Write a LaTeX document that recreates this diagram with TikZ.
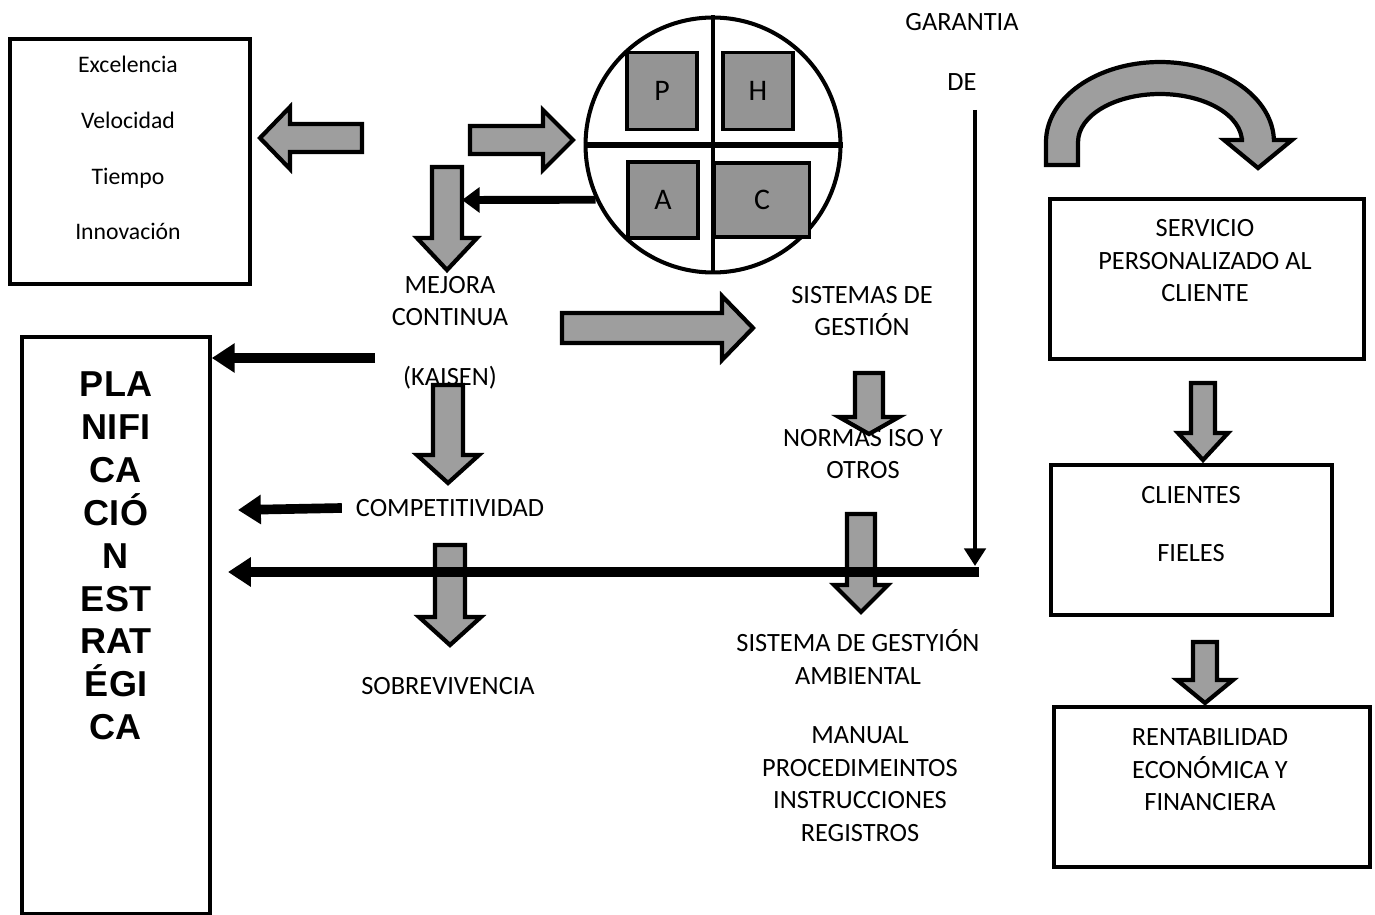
\documentclass[tikz,border=0pt]{standalone}
\usepackage{fontspec}
\setmainfont{Carlito}
\newfontfamily\arialfont{Liberation Sans}
\usetikzlibrary{arrows.meta,positioning}

\tikzset{
  lbl/.style={font=\fontsize{15}{18.5}\selectfont, align=center, inner sep=1pt},
  smalllbl/.style={font=\fontsize{13.5}{31.8}\selectfont, align=center},
  frame/.style={draw, line width=2.2pt},
  blockfill/.style={draw, line width=2.4pt, fill=black!38, line join=miter},
  pdcasq/.style={draw, line width=2.2pt, fill=black!42, font=\fontsize{17}{17}\selectfont, inner sep=0pt},
  thickarrow/.style={line width=5.5pt, -{Triangle[length=13pt,width=16pt]}},
  medarrow/.style={line width=4.5pt, -{Triangle[length=10pt,width=14pt]}},
  thinarrow/.style={line width=2.8pt, -{Triangle[length=10pt,width=12pt]}},
}

% block arrows: x, top, base, tip, half shaft, half head
\newcommand{\blockdown}[6]{%
  \draw[blockfill] ({#1-#5},#2) -- ({#1+#5},#2) -- ({#1+#5},#3) -- ({#1+#6},#3)
    -- (#1,#4) -- ({#1-#6},#3) -- ({#1-#5},#3) -- cycle;}
% y, start, base, tip, half shaft, half head
\newcommand{\blockhoriz}[6]{%
  \draw[blockfill] (#2,{#1-#5}) -- (#3,{#1-#5}) -- (#3,{#1-#6}) -- (#4,#1)
    -- (#3,{#1+#6}) -- (#3,{#1+#5}) -- (#2,{#1+#5}) -- cycle;}

\begin{document}
\begin{tikzpicture}[x=0.02cm,y=-0.02cm]
 \useasboundingbox (0,0) rectangle (1375,915);

 %Boxes
 \node[frame, minimum width=4.8cm, minimum height=4.9cm, anchor=north west] (valores) at (8,37) {};
 \node[frame, minimum width=3.76cm, minimum height=11.54cm, anchor=north west] (plan) at (20,335) {};
 \node[frame, minimum width=6.28cm, minimum height=3.2cm, anchor=north west] (servicio) at (1048,197) {};
 \node[frame, minimum width=5.62cm, minimum height=3cm, anchor=north west] (clientes) at (1049,463) {};
 \node[frame, minimum width=6.32cm, minimum height=3.2cm, anchor=north west] (renta) at (1052,705) {};

 %PDCA circle
 \node[draw, circle, line width=2.3pt, minimum size=5.1cm, inner sep=0pt] (pdca) at (713,145) {};
 \draw[line width=2.8pt] (pdca.north) -- (pdca.south);
 \draw[line width=3.6pt] (pdca.west) -- (pdca.east);
 \node[pdcasq, minimum width=1.4cm, minimum height=1.54cm] (p) at (662,91) {P};
 \node[pdcasq, minimum width=1.4cm, minimum height=1.54cm] (h) at (758,91) {H};
 \node[pdcasq, minimum width=1.4cm, minimum height=1.52cm] (a) at (663,200) {A};
 \node[pdcasq, minimum width=1.9cm, minimum height=1.48cm] (c) at (762,200) {C};

 %Texts
 \node[smalllbl] (valtext) at (128,148) {Excelencia\\Velocidad\\Tiempo\\Innovación};
 \node[font=\arialfont\bfseries\fontsize{20.5}{24.4}\selectfont, align=center] (plantext) at (116,556)
   {PLA\\NIFI\\CA\\CIÓ\\N\\EST\\RAT\\ÉGI\\CA};
 \node[lbl] (mejora) at (450,301) {MEJORA\\CONTINUA};
 \node[lbl] (kaisen) at (450,378) {(KAISEN)};
 \node[lbl] (comp) at (450,508) {COMPETITIVIDAD};
 \node[lbl] (sobre) at (448,686) {SOBREVIVENCIA};
 \node[lbl] (sistemas) at (862,311) {SISTEMAS DE\\GESTIÓN};
 \node[lbl] (normas) at (863,454) {NORMAS ISO Y\\OTROS};
 \node[lbl] (ambiental) at (858,657) {SISTEMA DE GESTYIÓN\\AMBIENTAL};
 \node[lbl] (manual) at (860,784) {MANUAL\\PROCEDIMEINTOS\\INSTRUCCIONES\\REGISTROS};
 \node[lbl, font=\fontsize{15}{34}\selectfont] (garantia) at (962,52) {GARANTIA\\DE};
 \node[lbl] (servtext) at (1205,261) {SERVICIO\\PERSONALIZADO AL\\CLIENTE};
 \node[lbl, font=\fontsize{15}{33}\selectfont] (clitext) at (1191,524) {CLIENTES\\FIELES};
 \node[lbl] (rentext) at (1210,770) {RENTABILIDAD\\ECONÓMICA Y\\FINANCIERA};

 %Block arrows
 \blockhoriz{138}{362}{290}{260}{14}{31}
 \blockhoriz{140}{470}{543}{573}{14}{30}
 \blockhoriz{328}{562}{722}{753}{15}{32}
 \blockdown{447}{167}{238}{270}{15}{30}
 \blockdown{448}{385}{455}{483}{15}{31}
 \blockdown{450}{545}{617}{645}{15}{31}
 \blockdown{869}{373}{417}{434}{14}{30}
 \blockdown{861}{514}{585}{612}{14}{27}
 \blockdown{1203}{383}{433}{460}{12}{25}
 \blockdown{1205}{642}{680}{703}{12}{28}

 %Curved arrow
 \draw[blockfill] (1046,165) -- (1046,142) arc[start angle=180, end angle=0, x radius=2.28cm, y radius=1.6cm]
   -- (1274,140) -- (1292,140) -- (1258,168) -- (1224,140) -- (1242,140) -- (1242,142)
   arc[start angle=0, end angle=180, x radius=1.64cm, y radius=0.96cm] -- (1078,165) -- cycle;

 %Coordinates
 \coordinate (mejoraside) at (462,200);
 \coordinate (kaisenstart) at (375,358);
 \coordinate (comptip) at (238,510);
 \coordinate (garfoot) at (975,110);
 \coordinate (garend) at (975,566);
 \coordinate (corner) at (979,572);
 \coordinate (longtip) at (228,572);

 %Line arrows
 \draw[medarrow] (pdca.205.7) -- (mejoraside);
 \draw[thickarrow] (kaisenstart) -- (plan.east |- kaisenstart);
 \draw[thickarrow] ([xshift=-0.24cm]comp.west) -- (comptip);
 \draw[thinarrow] (garfoot) -- (garend);
 \draw[thickarrow] (corner) -- (longtip);

\end{tikzpicture}
\end{document}
